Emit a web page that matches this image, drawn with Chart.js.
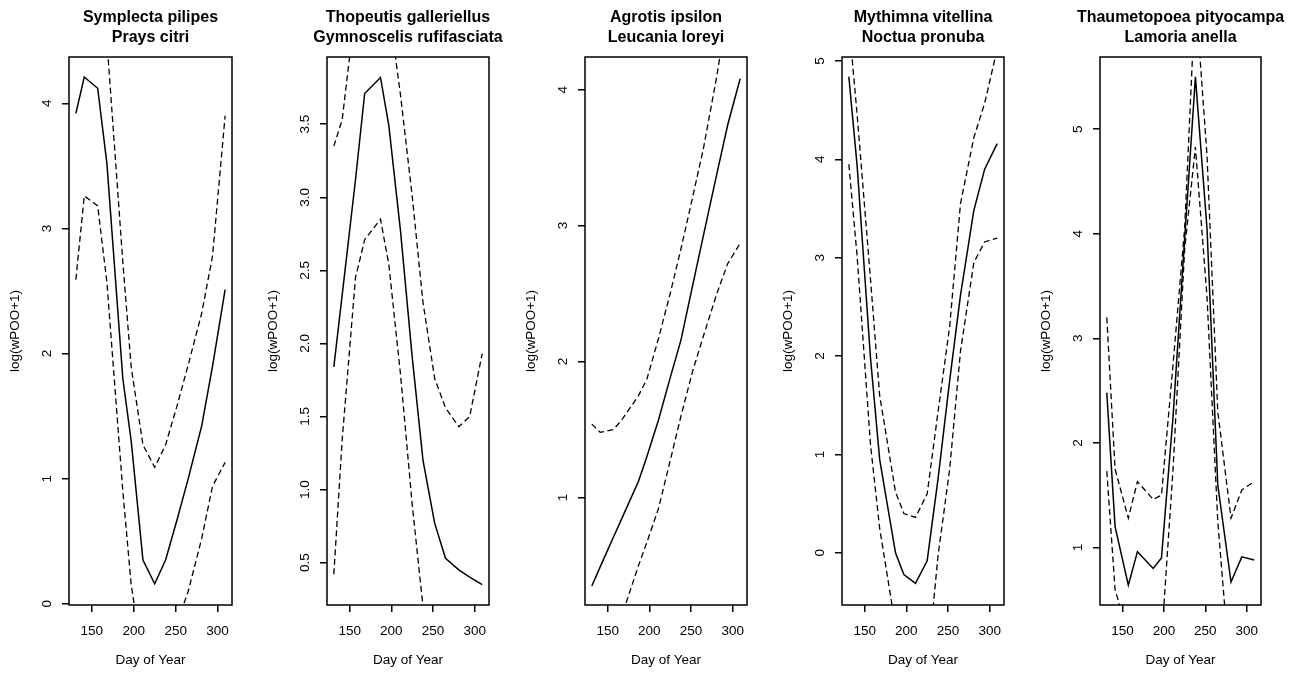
<!DOCTYPE html>
<html>
<head>
<meta charset="utf-8">
<script src="https://cdn.jsdelivr.net/npm/chart.js@4.4.1/dist/chart.umd.min.js"></script>
<style>
  html, body { margin: 0; padding: 0; background: #fff; }
  body { width: 1303px; height: 673px; position: relative; overflow: hidden; }
  canvas { position: absolute; top: 0; }
</style>
</head>
<body>
<canvas id="p1"></canvas>
<canvas id="p2"></canvas>
<canvas id="p3"></canvas>
<canvas id="p4"></canvas>
<canvas id="p5"></canvas>
<script>
// sampling days shared by every panel
const days = [131, 141, 157, 168, 187, 197, 211, 225, 238, 252, 265, 281, 294, 309];
const xTicks = [150, 200, 250, 300];

// Symplecta pilipes / Prays citri
const fit1   = [3.92, 4.21, 4.12, 3.52, 1.8, 1.3, 0.35, 0.16, 0.35, 0.68, 1.0, 1.42, 1.9, 2.51];
const upper1 = [5.6, 5.5, 5.2, 4.5, 2.73, 1.89, 1.27, 1.09, 1.27, 1.59, 1.91, 2.32, 2.78, 3.9];
const lower1 = [2.59, 3.26, 3.18, 2.57, 0.9, 0.15, -0.45, -0.7, -0.5, -0.15, 0.1, 0.52, 0.94, 1.13];
const yTicks1 = ['0', '1', '2', '3', '4'];

// Thopeutis galleriellus / Gymnoscelis rufifasciata
const fit2   = [1.84, 2.33, 3.12, 3.71, 3.82, 3.49, 2.77, 1.91, 1.2, 0.77, 0.53, 0.45, 0.4, 0.35];
const upper2 = [3.35, 3.53, 4.3, 4.7, 4.8, 4.3, 3.7, 3.01, 2.28, 1.76, 1.56, 1.43, 1.5, 1.93];
const lower2 = [0.42, 1.34, 2.45, 2.71, 2.85, 2.54, 1.79, 0.9, 0.2, -0.5, -0.9, -1.2, -1.3, -1.3];
const yTicks2 = ['0.5', '1.0', '1.5', '2.0', '2.5', '3.0', '3.5'];

// Agrotis ipsilon / Leucania loreyi
const fit3   = [0.35, 0.49, 0.71, 0.86, 1.12, 1.3, 1.57, 1.88, 2.16, 2.56, 2.93, 3.38, 3.74, 4.08];
const upper3 = [1.54, 1.48, 1.5, 1.58, 1.75, 1.87, 2.17, 2.5, 2.83, 3.21, 3.57, 4.1, 4.6, 5.1];
const lower3 = [-0.5, -0.32, -0.04, 0.15, 0.5, 0.67, 0.92, 1.27, 1.6, 1.93, 2.19, 2.5, 2.72, 2.87];
const yTicks3 = ['1', '2', '3', '4'];

// Mythimna vitellina / Noctua pronuba
const fit4   = [4.84, 3.93, 1.98, 0.95, 0.0, -0.22, -0.31, -0.08, 0.75, 1.75, 2.62, 3.48, 3.9, 4.16];
const upper4 = [5.4, 4.45, 2.78, 1.6, 0.62, 0.4, 0.36, 0.6, 1.43, 2.3, 3.55, 4.22, 4.57, 5.12];
const lower4 = [3.95, 3.01, 1.1, 0.25, -0.75, -1.2, -1.5, -1.2, -0.03, 0.85, 2.05, 2.95, 3.16, 3.2];
const yTicks4 = ['0', '1', '2', '3', '4', '5'];

// Thaumetopoea pityocampa / Lamoria anella
const fit5   = [2.48, 1.2, 0.64, 0.96, 0.8, 0.9, 2.25, 3.95, 5.5, 4.05, 1.6, 0.67, 0.91, 0.88];
const upper5 = [3.2, 1.75, 1.28, 1.63, 1.46, 1.5, 2.75, 4.05, 6.3, 4.75, 2.3, 1.28, 1.55, 1.63];
const lower5 = [1.73, 0.6, 0.15, -0.3, -0.5, 0.1, 1.75, 3.85, 4.83, 3.4, 1.25, -0.3, -0.5, -0.5];
const yTicks5 = ['1', '2', '3', '4', '5'];

const titles = [
    ['Symplecta pilipes', 'Prays citri'],
    ['Thopeutis galleriellus', 'Gymnoscelis rufifasciata'],
    ['Agrotis ipsilon', 'Leucania loreyi'],
    ['Mythimna vitellina', 'Noctua pronuba'],
    ['Thaumetopoea pityocampa', 'Lamoria anella']
];
const yMin = [-0.01, 0.21, 0.21, -0.53, 0.45];
const yMax = [4.37, 3.96, 4.24, 5.04, 5.69];
const xMin = 122.8, xMax = 317.2;

// where each plot box sits on the page (left, right)
const boxes = [[69, 232], [327, 489], [585, 747], [842, 1004], [1100, 1261]];

const panels = [
    { fit: fit1, upper: upper1, lower: lower1, yTicks: yTicks1 },
    { fit: fit2, upper: upper2, lower: lower2, yTicks: yTicks2 },
    { fit: fit3, upper: upper3, lower: lower3, yTicks: yTicks3 },
    { fit: fit4, upper: upper4, lower: lower4, yTicks: yTicks4 },
    { fit: fit5, upper: upper5, lower: lower5, yTicks: yTicks5 }
];

Chart.defaults.font.family = '"Liberation Sans", Arial, Helvetica, sans-serif';
Chart.defaults.font.size = 13.5;
Chart.defaults.color = '#000';

// R style: full box and y labels rotated along the axis
const rPlotPlugin = {
    id: 'rPlot',
    afterDraw(chart) {
        const ctx = chart.ctx;
        const a = chart.chartArea;
        const y = chart.scales.y;
        const labels = chart.options.plugins.rPlot.labels;
        ctx.save();
        ctx.strokeStyle = '#000';
        ctx.lineWidth = 1.5;
        ctx.strokeRect(a.left, a.top, a.right - a.left, a.bottom - a.top);
        ctx.fillStyle = '#000';
        ctx.font = '13.5px "Liberation Sans", Arial, sans-serif';
        ctx.textAlign = 'center';
        ctx.textBaseline = 'middle';
        y.ticks.forEach(function(t, i) {
            const py = y.getPixelForValue(t.value);
            ctx.save();
            ctx.translate(a.left - 22, py);
            ctx.rotate(-Math.PI / 2);
            ctx.fillText(labels[i], 0, 0);
            ctx.restore();
        });
        ctx.restore();
    }
};

const padL = 66, padR = 66;

panels.forEach(function(p, i) {
    const canvas = document.getElementById('p' + (i + 1));
    const box = boxes[i];
    canvas.width = box[1] - box[0] + padL + padR;
    canvas.height = 673;
    canvas.style.left = (box[0] - padL) + 'px';

    const pts = function(vals) {
        return days.map(function(d, k) { return { x: d, y: vals[k] }; });
    };

    new Chart(canvas, {
        type: 'line',
        data: {
            datasets: [
                { data: pts(p.fit), borderColor: '#000', borderWidth: 1.5, pointRadius: 0, tension: 0 },
                { data: pts(p.upper), borderColor: '#000', borderWidth: 1.3, borderDash: [6, 3.5], pointRadius: 0, tension: 0 },
                { data: pts(p.lower), borderColor: '#000', borderWidth: 1.3, borderDash: [6, 3.5], pointRadius: 0, tension: 0 }
            ]
        },
        options: {
            responsive: false,
            animation: false,
            events: [],
            layout: { padding: 0 },
            plugins: {
                legend: { display: false },
                tooltip: { enabled: false },
                title: {
                    display: true,
                    text: titles[i],
                    fullSize: true,
                    color: '#000',
                    font: { size: 16, weight: 'bold' },
                    padding: { top: 8.4, bottom: 10.2 }
                },
                rPlot: { labels: p.yTicks }
            },
            scales: {
                x: {
                    type: 'linear',
                    min: xMin,
                    max: xMax,
                    afterBuildTicks: function(scale) {
                        scale.ticks = xTicks.map(function(v) { return { value: v }; });
                    },
                    afterFit: function(scale) { scale.height = 68; },
                    ticks: { padding: 11, color: '#000', maxRotation: 0 },
                    grid: { display: true, drawOnChartArea: false, drawTicks: true, tickLength: 7, color: '#000', lineWidth: 1.5 },
                    border: { display: false },
                    title: { display: true, text: 'Day of Year', color: '#000', padding: { top: 0, bottom: 5 } }
                },
                y: {
                    type: 'linear',
                    position: 'left',
                    min: yMin[i],
                    max: yMax[i],
                    afterBuildTicks: function(scale) {
                        scale.ticks = p.yTicks.map(function(s) { return { value: parseFloat(s) }; });
                    },
                    afterFit: function(scale) { scale.width = padL; },
                    ticks: { display: false },
                    grid: { display: true, drawOnChartArea: false, drawTicks: true, tickLength: 7, color: '#000', lineWidth: 1.5 },
                    border: { display: false },
                    title: { display: true, text: 'log(wPOO+1)', color: '#000', padding: { top: 4, bottom: 0 } }
                },
                // empty right margin so the title centres over the plot box
                yR: {
                    type: 'linear',
                    position: 'right',
                    min: yMin[i],
                    max: yMax[i],
                    afterFit: function(scale) { scale.width = padR; },
                    ticks: { display: false },
                    grid: { display: false },
                    border: { display: false }
                }
            }
        },
        plugins: [rPlotPlugin]
    });
});
</script>
</body>
</html>
